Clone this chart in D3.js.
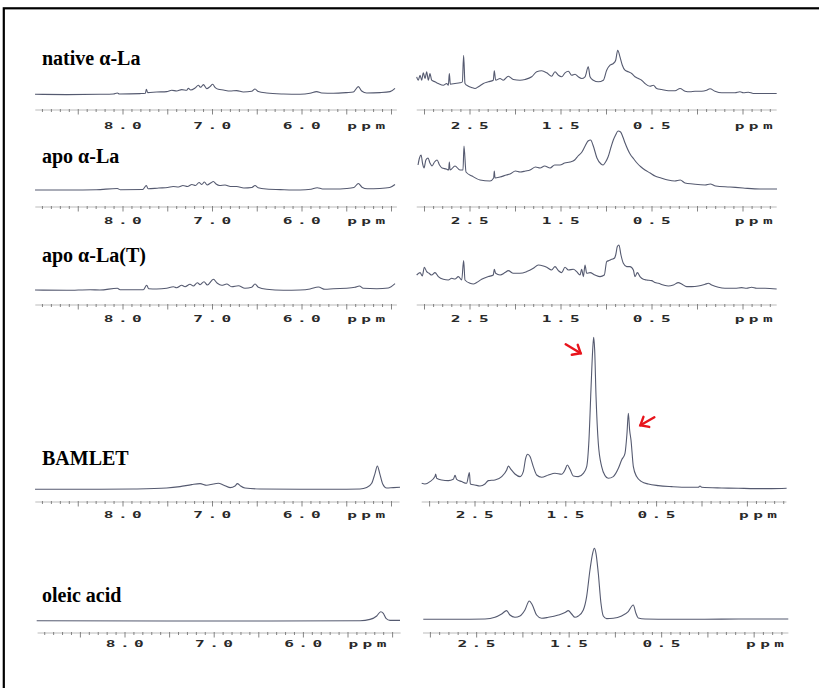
<!DOCTYPE html>
<html><head><meta charset="utf-8">
<script src="https://cdn.jsdelivr.net/npm/d3@7"></script>
<style>html,body{margin:0;padding:0;background:#fff;}svg{display:block;}</style>
</head><body>
<script>
// ---------- DATA ----------
const sampleNames = ["native α-La", "apo α-La", "apo α-La(T)", "BAMLET", "oleic acid"];
const leftTickLabels = ["8.0", "7.0", "6.0"];
const leftTickValues = [8.0, 7.0, 6.0];
const rightTickLabels = ["2.5", "1.5", "0.5"];
const rightTickValues = [2.5, 1.5, 0.5];
const unitLabel = "ppm";

// spectra: [ppm, intensity]
const nativeLeft = [[8.983,0],[8.629,-0.3],[8.257,0],[8.108,0.3],[8.063,1.3],[8.041,0.3],[7.810,0.7],[7.750,1],[7.739,5],[7.724,1.7],[7.624,2.3],[7.512,2.7],[7.456,4],[7.400,3.3],[7.344,4.7],[7.288,4],[7.270,6],[7.244,4.3],[7.195,6.3],[7.158,9],[7.132,7],[7.102,9.7],[7.065,5.7],[7.028,7.7],[6.998,10],[6.972,7],[6.935,5],[6.879,4.3],[6.804,3.3],[6.730,3.7],[6.655,2.3],[6.562,3],[6.525,5.3],[6.488,2.7],[6.395,1.3],[6.208,0.3],[6.022,0],[5.910,1],[5.836,2.7],[5.780,1.3],[5.650,1],[5.501,1.7],[5.426,2.3],[5.370,7.7],[5.333,3.3],[5.277,1.3],[5.128,1.7],[5.016,2.7],[4.961,6]];
const nativeRight = [[3.086,16.7],[3.068,13.3],[3.049,18.3],[3.031,13.3],[3.013,20.7],[2.994,15],[2.976,21.7],[2.958,13.3],[2.940,20],[2.921,13.3],[2.885,11.7],[2.848,10],[2.793,8.3],[2.756,10],[2.738,8.3],[2.727,20],[2.716,9.3],[2.665,10],[2.610,10.7],[2.584,11.7],[2.570,38.3],[2.555,10],[2.518,7.3],[2.482,6],[2.445,5],[2.408,6.7],[2.353,10],[2.298,11.7],[2.244,13.3],[2.233,22.7],[2.218,13.3],[2.170,15],[2.134,13.3],[2.079,17.3],[2.024,14],[1.951,13.3],[1.895,14],[1.822,16.7],[1.767,21.7],[1.712,22.7],[1.657,20.7],[1.603,17.3],[1.566,21.7],[1.529,18.3],[1.493,16.7],[1.456,20.7],[1.419,22.3],[1.383,18.3],[1.346,19.3],[1.310,16.7],[1.273,15],[1.236,16.7],[1.200,26.7],[1.181,16.7],[1.145,13.3],[1.090,11.7],[1.035,13.3],[0.998,23.3],[0.961,28.3],[0.925,30],[0.899,33.3],[0.877,43.3],[0.852,36.7],[0.826,28.3],[0.797,23.3],[0.760,21.7],[0.723,20],[0.687,16.7],[0.650,15],[0.614,13.3],[0.577,10],[0.522,7.3],[0.485,8.3],[0.449,5],[0.394,4],[0.320,2.7],[0.247,2.7],[0.192,5],[0.137,2.3],[0.082,1.7],[0.027,2.3],[-0.046,2.3],[-0.101,3.3],[-0.137,4.7],[-0.192,2.3],[-0.266,0.7],[-0.339,0.7],[-0.412,0.7],[-0.467,1.7],[-0.504,0.7],[-0.559,1.3],[-0.614,0],[-0.705,0],[-0.779,0],[-0.870,0]];

const apoLeft = [[8.983,0],[8.600,0],[8.300,0.3],[8.063,1.5],[8.030,0.3],[7.780,0.5],[7.739,4.5],[7.720,1.2],[7.600,2],[7.500,2.5],[7.440,3.5],[7.380,3],[7.330,4.5],[7.280,3.5],[7.230,5.5],[7.190,4.5],[7.150,7.5],[7.120,5.5],[7.090,8],[7.060,5],[7.020,7],[6.990,8.5],[6.960,6],[6.920,4.5],[6.860,5],[6.800,3.5],[6.730,3.5],[6.650,2],[6.560,2.5],[6.525,4.5],[6.490,2.3],[6.400,1],[6.200,0.3],[6.020,0],[5.900,0.8],[5.830,2.3],[5.770,1],[5.650,1],[5.500,1.5],[5.420,2.5],[5.370,6.5],[5.330,2.8],[5.270,1.2],[5.130,1.5],[5.020,2.5],[4.961,5.5]];
const apoRight = [[3.071,25],[3.055,32],[3.038,35],[3.020,26],[3.005,22],[2.985,30],[2.961,32],[2.940,27],[2.917,24],[2.890,28],[2.862,30],[2.835,25],[2.807,22],[2.760,21],[2.735,20],[2.727,28],[2.719,20],[2.665,24],[2.610,20],[2.577,20],[2.566,44],[2.544,18],[2.478,14],[2.390,10],[2.280,9],[2.240,12],[2.233,19],[2.225,12],[2.170,13],[2.100,15],[2.060,16],[2.000,19],[1.950,18],[1.890,19],[1.840,20],[1.780,23],[1.730,22],[1.680,24],[1.620,22],[1.570,25],[1.511,25],[1.460,27],[1.401,28],[1.350,30],[1.313,34],[1.270,38],[1.235,44],[1.203,49],[1.175,50],[1.145,44],[1.105,32],[1.060,26],[1.038,25],[1.010,28],[0.983,33],[0.950,43],[0.925,50],[0.900,55],[0.873,59],[0.845,58],[0.820,53],[0.796,47],[0.741,36],[0.700,31],[0.665,27],[0.620,23],[0.577,20],[0.520,17],[0.467,14],[0.400,12],[0.325,10],[0.250,9],[0.190,10],[0.137,7],[0.050,6],[-0.083,5],[-0.140,6],[-0.200,4],[-0.357,3],[-0.500,2],[-0.687,1],[-0.874,1]];

const apoTLeft = [[8.983,0],[8.629,-0.3],[8.368,0.3],[8.257,0],[8.063,1.7],[8.033,0.3],[7.773,0.3],[7.735,4.7],[7.713,1.3],[7.624,1],[7.512,1.7],[7.437,3.3],[7.400,2.3],[7.344,4.7],[7.307,3.3],[7.251,5.7],[7.214,4],[7.169,7.3],[7.139,5.3],[7.095,8.3],[7.057,5],[6.990,10.7],[6.946,6.7],[6.897,4.7],[6.841,6],[6.786,3.3],[6.711,4.3],[6.637,1.7],[6.562,2.7],[6.525,6],[6.488,2.7],[6.395,0.7],[6.208,-0.3],[6.022,0],[5.910,1],[5.817,3],[5.743,0.7],[5.650,1.3],[5.501,1.7],[5.408,2.7],[5.359,4],[5.315,1.7],[5.165,1.3],[5.035,2],[4.961,6.3]];
const apoTRight = [[3.086,13.3],[3.049,15.7],[3.024,12.3],[3.002,21],[2.976,16.7],[2.950,15],[2.921,13.3],[2.885,15.7],[2.848,11.7],[2.793,9],[2.738,8.3],[2.701,10],[2.665,9.3],[2.628,11.7],[2.591,8.3],[2.570,27.7],[2.555,8.3],[2.500,5],[2.463,4.3],[2.427,5.7],[2.372,9],[2.298,11.7],[2.244,13.3],[2.233,19],[2.218,15],[2.170,13.3],[2.115,15.7],[2.079,17.7],[2.024,15],[1.951,15],[1.877,16.7],[1.804,20],[1.749,23.3],[1.694,22.3],[1.657,21],[1.603,18.3],[1.566,21.7],[1.529,17.7],[1.493,15.7],[1.456,21],[1.419,18.3],[1.364,19],[1.328,16.7],[1.291,13.3],[1.273,19],[1.254,11.7],[1.236,23.3],[1.218,15],[1.181,15.7],[1.126,13.3],[1.071,11.7],[1.024,13.3],[0.998,26.7],[0.972,27.7],[0.943,29],[0.914,30],[0.899,33.3],[0.881,41.7],[0.863,43.3],[0.841,33.3],[0.815,25],[0.778,21.7],[0.742,21.7],[0.705,18.3],[0.687,11.7],[0.661,15.7],[0.632,11.7],[0.595,9],[0.559,8.3],[0.504,7.7],[0.467,5.7],[0.430,5],[0.375,3.3],[0.320,2.3],[0.265,3.3],[0.210,5.7],[0.174,4.3],[0.119,1.7],[0.064,1.7],[-0.009,2.3],[-0.083,4],[-0.119,5],[-0.156,3.3],[-0.229,1],[-0.302,0],[-0.412,0],[-0.485,0.7],[-0.540,0],[-0.595,1],[-0.650,0],[-0.742,0],[-0.870,-0.7]];

const bamletLeft = [[8.983,0],[8.257,0],[7.884,0.3],[7.512,1.3],[7.363,2.7],[7.233,4.7],[7.139,5.7],[7.065,4],[6.990,5.3],[6.935,6],[6.879,4.3],[6.804,1.7],[6.748,3.3],[6.722,5.7],[6.692,3.7],[6.637,1.3],[6.469,0.3],[6.022,0],[5.650,0],[5.352,0.3],[5.277,1.7],[5.221,6],[5.184,16],[5.158,23.3],[5.132,16],[5.098,5.3],[5.054,1.3],[4.979,1.7],[4.905,2]];
const bamletRight = [[3.087,5],[3.051,4.3],[2.996,6.7],[2.941,11.7],[2.933,14.3],[2.922,10],[2.867,8.3],[2.794,7.7],[2.739,9],[2.720,13],[2.702,9],[2.647,6.7],[2.592,5],[2.562,15.7],[2.551,4.3],[2.500,3.3],[2.445,2.3],[2.390,4.3],[2.353,7.7],[2.280,8.3],[2.206,11.7],[2.151,18.3],[2.133,22.3],[2.104,19],[2.060,14.3],[2.004,11.7],[1.968,16.7],[1.942,30],[1.920,34],[1.894,31.7],[1.858,21.7],[1.821,13.3],[1.766,11],[1.692,13.3],[1.619,15],[1.546,14],[1.509,18.3],[1.483,23.3],[1.454,19],[1.417,12.3],[1.362,11.7],[1.307,15],[1.270,21.7],[1.245,48.3],[1.223,98.3],[1.204,138.3],[1.193,151],[1.182,138.3],[1.167,91.7],[1.142,45],[1.105,21.7],[1.068,12.7],[1.032,10],[0.977,11.7],[0.921,20],[0.885,28.3],[0.848,35],[0.826,55],[0.811,75],[0.797,58.3],[0.782,48.3],[0.756,21.7],[0.720,11.7],[0.665,6.7],[0.591,4.3],[0.481,2.7],[0.334,1.7],[0.151,1],[0.040,1],[0.022,2.3],[0.004,1],[-0.217,0.3],[-0.400,0],[-0.584,-0.3],[-0.767,-0.3],[-0.932,0]];

const oleicLeft = [[8.990,0],[7.532,-0.3],[6.411,-0.3],[5.365,0],[5.253,1.3],[5.178,4.7],[5.133,9],[5.104,7.3],[5.074,2.3],[5.029,0.3],[4.917,0.3]];
const oleicRight = [[3.077,0],[2.734,0],[2.410,0.3],[2.302,2],[2.230,5.3],[2.176,8.7],[2.140,4.3],[2.086,2],[2.032,3.3],[1.978,9.3],[1.931,18.3],[1.898,14.3],[1.852,4.3],[1.797,1],[1.725,2],[1.617,4.3],[1.545,6.7],[1.509,8.7],[1.473,5.3],[1.437,2],[1.401,3.3],[1.347,9.3],[1.311,22.7],[1.275,49.3],[1.246,66],[1.228,71],[1.210,66],[1.185,46],[1.156,16],[1.131,3.3],[1.095,0.7],[1.023,1],[0.933,3.3],[0.861,7.7],[0.807,14.3],[0.778,6],[0.753,1.3],[0.680,0.3],[0.392,0],[0.032,0],[-0.329,0.3],[-0.869,0.3]];

const leftSpectra = [nativeLeft, apoLeft, apoTLeft, bamletLeft, oleicLeft];
const rightSpectra = [nativeRight, apoRight, apoTRight, bamletRight, oleicRight];
// arrowed peaks in BAMLET (ppm, intensity)
const arrowPeaks = [1.193, 0.811];
const arrowPeakInts = [151, 75];

// ---------- LAYOUT ----------
const W = 819, H = 688;
const layout = [
  {title: 65,  baseL: 94.3, baseR: 93.5, axis: 110, lab: 128.5, L: [33.5, 391.5], R: [424.5, 697.5], Lext: [8.98, 4.94], Rext: [3.085, -0.87]},
  {title: 163, baseL: 190,  baseR: 190,  axis: 207, lab: 224,   L: [33.5, 391.5], R: [424.5, 697.5], Lext: [8.98, 4.94], Rext: [3.085, -0.87]},
  {title: 262, baseL: 290,  baseR: 288.3,axis: 305, lab: 322,   L: [33.5, 391.5], R: [424.5, 697.5], Lext: [8.98, 4.94], Rext: [3.085, -0.87]},
  {title: 465, baseL: 489.3,baseR: 488.3,axis: 502, lab: 517.5, L: [33.5, 391.5], R: [429.6, 702.0], Lext: [8.98, 4.91], Rext: [3.087, -0.93]},
  {title: 602, baseL: 620.7,baseR: 619.3,axis: 633, lab: 646.5, L: [35.8, 392.6], R: [430.4, 707.9], Lext: [8.98, 4.91], Rext: [3.08, -0.87]}
];
const lineColor = "#555a70";

const svg = d3.select("body").append("svg").attr("width", W).attr("height", H);
svg.append("rect").attr("width", W).attr("height", H).attr("fill", "#fff");
// frame (right/bottom edges lie outside the picture)
svg.append("rect").attr("x", 3.8).attr("y", 8.3).attr("width", 830).attr("height", 700)
  .attr("fill", "none").attr("stroke", "#000").attr("stroke-width", 2.2);

function drawAxis(g, x, ext, y, labY, labelVals, labelTxt, unitPpm) {
  const [a, b] = ext;
  g.append("line").attr("x1", x(a)).attr("x2", x(b)).attr("y1", y).attr("y2", y)
    .attr("stroke", "#aaa").attr("stroke-width", 0.8);
  const lo = Math.ceil(Math.min(a, b) * 10), hi = Math.floor(Math.max(a, b) * 10);
  const ticks = d3.range(lo, hi + 1).map(v => v / 10);
  g.selectAll(null).data(ticks).join("line")
    .attr("x1", d => x(d)).attr("x2", d => x(d))
    .attr("y1", d => y - 1)
    .attr("y2", d => y + (Math.abs(d * 10 % 5) < 1e-6 ? 4.5 : 2))
    .attr("stroke", "#777").attr("stroke-width", 0.9);
  g.selectAll(null).data(labelVals.map((v, i) => ({v, t: labelTxt[i]})).concat([{v: unitPpm, t: unitLabel}]))
    .join("text")
    .attr("transform", d => `translate(${x(d.v) + 2},${labY}) scale(1.7,1)`)
    .attr("text-anchor", "middle")
    .attr("font-family", "DejaVu Sans Mono, monospace").attr("font-weight", "bold")
    .attr("font-size", 9.5).attr("letter-spacing", 2.6)
    .attr("fill", "#2a2a2a").text(d => d.t);
}

layout.forEach((r, i) => {
  const g = svg.append("g");
  const xL = d3.scaleLinear().domain([9, 5]).range(r.L);
  const xR = d3.scaleLinear().domain([3, 0]).range(r.R);
  const yL = d3.scaleLinear().domain([0, 100]).range([r.baseL, r.baseL - 100]);
  const yR = d3.scaleLinear().domain([0, 100]).range([r.baseR, r.baseR - 100]);

  g.append("text").attr("x", 42).attr("y", r.title)
    .attr("font-family", "Liberation Serif, Times New Roman, serif").attr("font-weight", "bold")
    .attr("font-size", 20).attr("fill", "#000").text(sampleNames[i]);

  const lineL = d3.line().x(d => xL(d[0])).y(d => yL(d[1])).curve(d3.curveMonotoneX);
  const lineR = d3.line().x(d => xR(d[0])).y(d => yR(d[1])).curve(d3.curveMonotoneX);
  g.append("path").attr("d", lineL(leftSpectra[i])).attr("fill", "none")
    .attr("stroke", lineColor).attr("stroke-width", 1.1);
  g.append("path").attr("d", lineR(rightSpectra[i])).attr("fill", "none")
    .attr("stroke", lineColor).attr("stroke-width", 1.1);

  drawAxis(g, xL, r.Lext, r.axis, r.lab, leftTickValues, leftTickLabels, 5.28);
  drawAxis(g, xR, r.Rext, r.axis, r.lab, rightTickValues, rightTickLabels, -0.62);

  if (i === 3) {
    // red arrows pointing at the two marked peaks
    const arrows = [
      {tip: [xR(arrowPeaks[0]) - 13, yR(arrowPeakInts[0]) + 16], from: [-15, -9]},
      {tip: [xR(arrowPeaks[1]) + 12, yR(arrowPeakInts[1]) + 12], from: [14, -8]}
    ];
    arrows.forEach(a => {
      const [tx, ty] = a.tip;
      const [dx, dy] = a.from;
      g.append("line").attr("x1", tx + dx).attr("y1", ty + dy).attr("x2", tx).attr("y2", ty)
        .attr("stroke", "#e8141c").attr("stroke-width", 2.4).attr("stroke-linecap", "round");
      const ang = Math.atan2(dy, dx);
      const L = 9;
      const p1 = [tx + L * Math.cos(ang + 0.7), ty + L * Math.sin(ang + 0.7)];
      const p2 = [tx + L * Math.cos(ang - 0.7), ty + L * Math.sin(ang - 0.7)];
      g.append("path").attr("d", `M${p1[0]},${p1[1]}L${tx},${ty}L${p2[0]},${p2[1]}`)
        .attr("fill", "none").attr("stroke", "#e8141c").attr("stroke-width", 2.4)
        .attr("stroke-linecap", "round").attr("stroke-linejoin", "miter");
    });
  }
});
</script>
</body></html>
